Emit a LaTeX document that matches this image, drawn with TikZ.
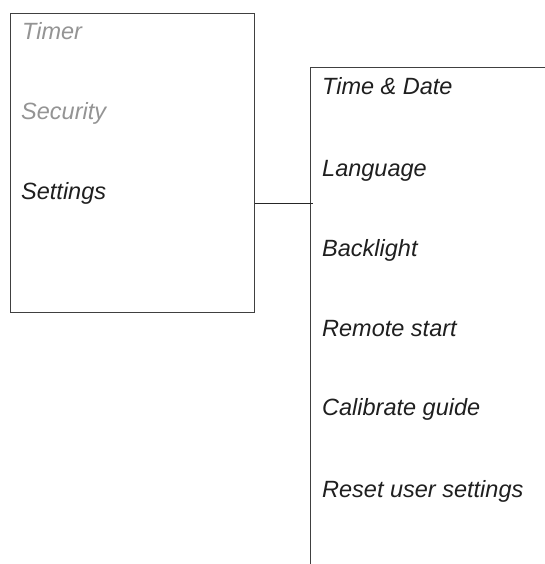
\documentclass[tikz,border=0pt]{standalone}
\usepackage{fontspec}
\setmainfont{Liberation Sans}
\begin{document}
\begin{tikzpicture}[x=1pt,y=-1pt,
  item/.style={anchor=base west,inner sep=0pt,font=\fontsize{23.5}{28}\selectfont\itshape},
  dim/.style={item,text=black!42},
  act/.style={item,text=black!88},
  frame/.style={draw=black!75,line width=1pt}]
\useasboundingbox (0,0) rectangle (545,564);
\fill[white] (0,0) rectangle (545,564);
\node[frame,minimum width=244pt,minimum height=299pt,inner sep=0pt,anchor=north west] (menu) at (10,13) {};
\node[dim] (timer) at (22,40) {Timer};
\node[dim] (security) at (21,120) {Security};
\node[act] (settings) at (21,199) {Settings};
\coordinate (ptop) at (310.5,67.5);
\coordinate (pend) at (545,67.5);
\coordinate (pbot) at (310.5,564);
\draw[frame] (pend) -- (ptop) -- (pbot);
\coordinate (join) at (313,203.5);
\draw[black!85,line width=0.9pt] (menu.east |- join) -- (join);
\node[act] (t1) at (322,95) {Time \& Date};
\node[act] (t2) at (322,176) {Language};
\node[act] (t3) at (322,256) {Backlight};
\node[act] (t4) at (322,336) {Remote start};
\node[act] (t5) at (322,415) {Calibrate guide};
\node[act] (t6) at (322,497) {Reset user settings};
\end{tikzpicture}
\end{document}
